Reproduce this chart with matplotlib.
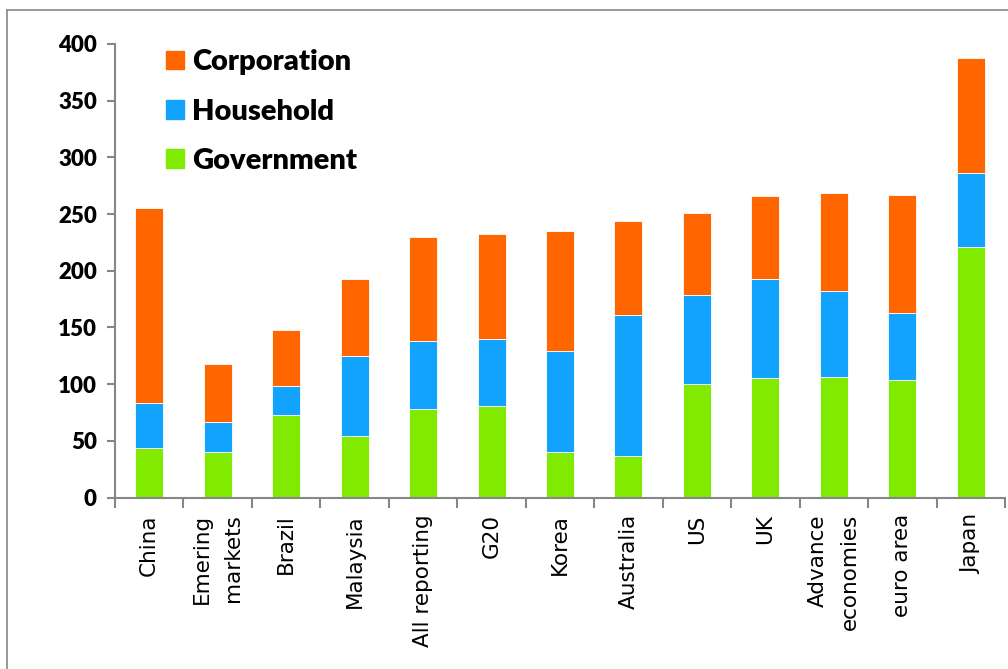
import matplotlib.pyplot as plt
import numpy as np
from matplotlib.patches import Patch
from matplotlib.lines import Line2D

categories = ['China', 'Emering\nmarkets', 'Brazil', 'Malaysia', 'All reporting', 'G20',
              'Korea', 'Australia', 'US', 'UK', 'Advance\neconomies', 'euro area', 'Japan']
government = [44, 40, 73, 54, 78, 81, 40, 37, 100, 105, 106, 104, 221]
household = [39, 27, 25, 71, 60, 59, 89, 124, 79, 88, 76, 59, 65]
corporation = [172, 51, 50, 68, 92, 92, 106, 83, 72, 73, 87, 104, 102]

c_gov = '#80EA00'
c_hh = '#12A3FF'
c_corp = '#FF6600'
grey = '#868686'

fig = plt.figure(figsize=(10.08, 6.69), dpi=100)
ax = fig.add_axes([115 / 1008, 1 - 497.5 / 669, 890 / 1008, (497.5 - 44) / 669])

x = np.arange(len(categories))
gov = np.array(government)
hh = np.array(household)
corp = np.array(corporation)
width = 0.41
ax.bar(x, gov, width, color=c_gov, edgecolor='white', linewidth=0.6)
ax.bar(x, hh, width, bottom=gov, color=c_hh, edgecolor='white', linewidth=0.6)
ax.bar(x, corp, width, bottom=gov + hh, color=c_corp, edgecolor='white', linewidth=0.6)

ax.set_xlim(-0.5, len(categories) - 0.5)
ax.set_ylim(0, 400)
ax.set_yticks(range(0, 401, 50))
for lab in ax.get_yticklabels():
    lab.set_fontfamily('Lato')
    lab.set_fontweight('heavy')
    lab.set_fontsize(16)

ax.set_xticks(x)
ax.set_xticklabels(categories, rotation=90, fontsize=15.5, family='DejaVu Sans',
                   va='top', ha='center', multialignment='right', linespacing=1.7)
ax.tick_params(axis='x', length=0, pad=12)
ax.set_xticks(np.arange(-0.5, len(categories), 1), minor=True)
ax.tick_params(axis='x', which='minor', length=7, width=1.5, color=grey)
ax.tick_params(axis='y', length=6, width=1.5, color=grey, pad=7)

for s in ['top', 'right']:
    ax.spines[s].set_visible(False)
for s in ['left', 'bottom']:
    ax.spines[s].set_color(grey)
    ax.spines[s].set_linewidth(1.5)

handles = [Patch(color=c_corp, label='Corporation'),
           Patch(color=c_hh, label='Household'),
           Patch(color=c_gov, label='Government')]
ax.legend(handles=handles, loc='upper left', bbox_to_anchor=(140 / 1008, 1 - 23 / 669),
          bbox_transform=fig.transFigure, frameon=False,
          prop={'family': 'Lato', 'weight': 'heavy', 'size': 21},
          handlelength=0.6, handleheight=0.6, handletextpad=0.3, labelspacing=0.8)

fig.add_artist(Line2D([7 / 1008, 7 / 1008], [0, 1 - 10 / 669], transform=fig.transFigure,
                      color=grey, linewidth=1.2))
fig.add_artist(Line2D([7 / 1008, 1], [1 - 10 / 669, 1 - 10 / 669], transform=fig.transFigure,
                      color=grey, linewidth=1.2))

fig.savefig('out.png', dpi=100)
